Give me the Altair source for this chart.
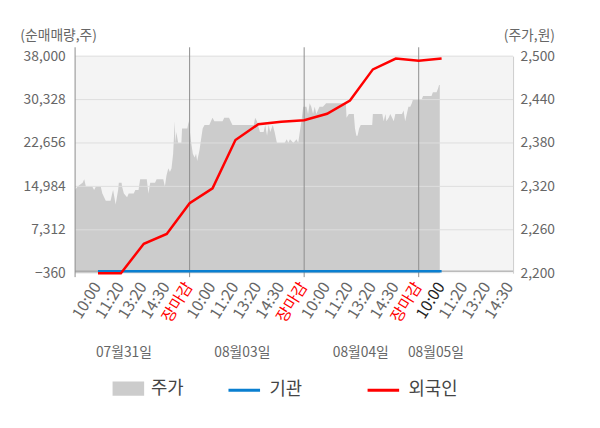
import altair as alt
import pandas as pd

FONT = "Noto Sans CJK KR"

# ---- price (주가) : x in time-slot units (5 slots per trading day), value in KRW
price_slot = [0.00, 0.11, 0.33, 0.40, 0.47, 0.62, 0.75, 0.83, 0.91, 1.12, 1.19, 1.34, 1.55, 1.62, 1.66,
              1.77, 1.88, 1.91, 2.03, 2.05, 2.13, 2.27, 2.34, 2.56, 2.63, 2.77, 2.84, 3.13, 3.20, 3.28,
              3.49, 3.56, 3.85, 3.92, 3.99, 4.07, 4.14, 4.21, 4.28, 4.35, 4.38, 4.42, 4.50, 4.64, 4.67,
              4.90, 4.96, 5.07, 5.14, 5.22, 5.28, 5.33, 5.43, 5.50, 5.57, 5.65, 5.86, 5.93, 6.00, 6.08,
              6.13, 6.44, 6.51, 6.72, 6.79, 6.87, 7.80, 7.86, 7.94, 8.07, 8.23, 8.30, 8.38, 8.45, 8.52,
              8.63, 8.71, 8.81, 9.15, 9.24, 9.31, 9.38, 9.53, 9.67, 9.74, 9.81, 9.88, 9.96, 10.10, 10.17,
              10.24, 10.31, 10.39, 10.46, 10.53, 10.67, 10.82, 10.96, 11.68, 11.82, 11.85, 11.95, 12.17, 12.18, 12.22,
              12.28, 12.33, 12.40, 12.47, 12.54, 12.97, 13.00, 13.41, 13.47, 13.55, 13.59, 13.69, 13.76, 13.84, 13.91,
              13.98, 14.27, 14.34, 14.41, 14.48, 14.55, 14.63, 14.70, 14.75, 14.91, 14.97, 15.13, 15.19, 15.49, 15.56,
              15.62, 15.78, 15.84, 15.89, 15.92]
price_val = [2315, 2320, 2325, 2330, 2320, 2320, 2320, 2315, 2320, 2320, 2310, 2300, 2300, 2310, 2315,
             2295, 2315, 2325, 2325, 2320, 2310, 2305, 2310, 2310, 2315, 2315, 2330, 2330, 2310, 2325,
             2325, 2330, 2330, 2320, 2335, 2345, 2340, 2345, 2365, 2410, 2380, 2395, 2380, 2380, 2400,
             2400, 2410, 2380, 2365, 2360, 2365, 2355, 2370, 2385, 2400, 2405, 2405, 2410, 2415, 2410,
             2410, 2410, 2415, 2415, 2410, 2405, 2405, 2415, 2410, 2395, 2395, 2405, 2390, 2405, 2395,
             2405, 2395, 2380, 2380, 2385, 2380, 2385, 2380, 2385, 2380, 2395, 2410, 2430, 2430, 2420,
             2435, 2430, 2420, 2430, 2420, 2430, 2430, 2435, 2435, 2435, 2415, 2420, 2420, 2415, 2400,
             2390, 2390, 2400, 2405, 2405, 2405, 2420, 2420, 2410, 2420, 2410, 2415, 2420, 2415, 2410,
             2420, 2420, 2425, 2410, 2420, 2430, 2430, 2435, 2440, 2440, 2440, 2440, 2445, 2445, 2445,
             2450, 2450, 2455, 2460, 2460]

# ---- net buying volume (순매매량)
flow_slot = [1, 2, 3, 4, 5, 6, 7, 8, 9, 10, 11, 12, 13, 14, 15, 16]
foreign_vals = [-360, -360, 4836, 6580, 12020, 14635, 23179, 25968, 26422, 26666, 27817, 30153,
                35663, 37581, 37180, 37581]
inst_vals = [0, 0, 0, 0, 0, 0, 0, 0, 0, 0, 0, 0, 0, 0, 0, 0]

# ---- axes / labels
left_ticks = [-360, 7312, 14984, 22656, 30328, 38000]
right_ticks = [2200, 2260, 2320, 2380, 2440, 2500]
tick_slots = [1, 2, 3, 4, 5, 6, 7, 8, 9, 10, 11, 12, 13, 14, 15, 16, 17, 18, 19]
tick_labels = ["10:00", "11:20", "13:20", "14:30", "장마감",
               "10:00", "11:20", "13:20", "14:30", "장마감",
               "10:00", "11:20", "13:20", "14:30", "장마감",
               "10:00", "11:20", "13:20", "14:30"]
tick_kind = ["time", "time", "time", "time", "close",
             "time", "time", "time", "time", "close",
             "time", "time", "time", "time", "close",
             "today", "time", "time", "time"]
kind_names = ["time", "close", "today"]
kind_colors = ["#666666", "#ff0000", "#222222"]
zero_line = [0]
day_lines = [0, 5, 10, 15]
date_labels = ["07월31일", "08월03일", "08월04일", "08월05일"]
date_slots = [2.13, 7.30, 12.47, 15.75]
series_names = ["기관", "외국인"]
series_colors = ["#0a7fd0", "#ff0000"]

price_df = pd.DataFrame({"s": price_slot, "p": price_val, "name": ["주가"] * len(price_slot)})
flow_df = pd.DataFrame({
    "s": flow_slot + flow_slot,
    "v": inst_vals + foreign_vals,
    "series": [series_names[0]] * len(flow_slot) + [series_names[1]] * len(flow_slot),
})
grid_df = pd.DataFrame({"g": left_ticks[1:]})
zero_df = pd.DataFrame({"z": zero_line})
day_df = pd.DataFrame({"d": day_lines})
date_df = pd.DataFrame({"s": date_slots, "t": date_labels})
xlab_df = pd.DataFrame({"s": tick_slots, "t": tick_labels, "k": tick_kind})

xscale = alt.Scale(domain=[0, 19.12], nice=False, zero=False)
lscale = alt.Scale(domain=[-360, 38000], nice=False, zero=False)
rscale = alt.Scale(domain=[2200, 2500], nice=False, zero=False)

area = alt.Chart(price_df).mark_area(interpolate="linear").encode(
    x=alt.X("s:Q", scale=xscale, axis=None),
    y=alt.Y("p:Q", scale=rscale, axis=alt.Axis(
        orient="right", values=right_ticks, format=",d", labelFontSize=14, labelFont=FONT,
        labelColor="#666666", labelPadding=7, ticks=False, grid=False, domain=True,
        domainColor="#cccccc", title="(주가,원)", titleAngle=0, titleAlign="right",
        titleBaseline="middle", titleX=42, titleY=-21, titleFontSize=14, titleFont=FONT,
        titleFontWeight="normal", titleColor="#666666")),
    y2=alt.datum(2200),
    fill=alt.Fill("name:N", scale=alt.Scale(domain=["주가"], range=["#cccccc"]), legend=alt.Legend(
        orient="none", legendX=38, legendY=321, title=None, direction="horizontal",
        symbolType="M-1,-0.45H1V0.45H-1Z", symbolSize=1024, symbolStrokeWidth=0,
        labelFontSize=18, labelFont=FONT, labelColor="#444444", labelOffset=7, padding=0)),
)

grid = alt.Chart(grid_df).mark_rule(color="#dddddd", strokeWidth=1).encode(
    y=alt.Y("g:Q", scale=lscale, axis=None),
)

zero = alt.Chart(zero_df).mark_rule(color="#999999", strokeWidth=1).encode(
    y=alt.Y("z:Q", scale=lscale, axis=None),
)

days = alt.Chart(day_df).mark_rule(color="#8c8c8c", strokeWidth=1).encode(
    x=alt.X("d:Q", scale=xscale, axis=None),
    y=alt.value(-9),
    y2=alt.value(224),
)

lines = alt.Chart(flow_df).mark_line(strokeWidth=2.5).encode(
    x=alt.X("s:Q", scale=xscale, axis=None),
    y=alt.Y("v:Q", scale=lscale, axis=alt.Axis(
        orient="left", values=left_ticks, format=",d", labelFontSize=14, labelFont=FONT,
        labelColor="#666666", labelPadding=10, ticks=False, grid=False, domain=False,
        title="(순매매량,주)", titleAngle=0, titleAlign="left", titleBaseline="middle",
        titleX=-56, titleY=-21, titleFontSize=14, titleFont=FONT, titleFontWeight="normal",
        titleColor="#666666")),
    stroke=alt.Stroke("series:N", scale=alt.Scale(domain=series_names, range=series_colors),
                      legend=alt.Legend(
                          orient="none", legendX=154, legendY=321, title=None, direction="horizontal",
                          symbolType="stroke", symbolSize=1024, symbolStrokeWidth=3,
                          labelFontSize=18, labelFont=FONT, labelColor="#444444", labelOffset=8,
                          columnPadding=59, padding=0)),
)

xlabels = alt.Chart(xlab_df).mark_text(fontSize=16, font=FONT, angle=302, align="right",
                                        baseline="middle", dx=-1).encode(
    x=alt.X("s:Q", scale=xscale, axis=None),
    y=alt.value(230),
    text="t:N",
    color=alt.Color("k:N", scale=alt.Scale(domain=kind_names, range=kind_colors), legend=None),
)

dates = alt.Chart(date_df).mark_text(fontSize=14, font=FONT, color="#666666", baseline="middle").encode(
    x=alt.X("s:Q", scale=xscale, axis=None),
    y=alt.value(301),
    text="t:N",
)

chart = alt.layer(area, grid, zero, days, lines, xlabels, dates).resolve_scale(
    y="independent"
).properties(
    width=444, height=220,
    autosize=alt.AutoSizeParams(type="none"),
    padding={"left": 68, "top": 46, "right": 80, "bottom": 146},
).configure(font=FONT).configure_view(fill="#f4f4f4", stroke=None)

chart.save("out.html", embed_options={"renderer": "svg", "actions": False})
